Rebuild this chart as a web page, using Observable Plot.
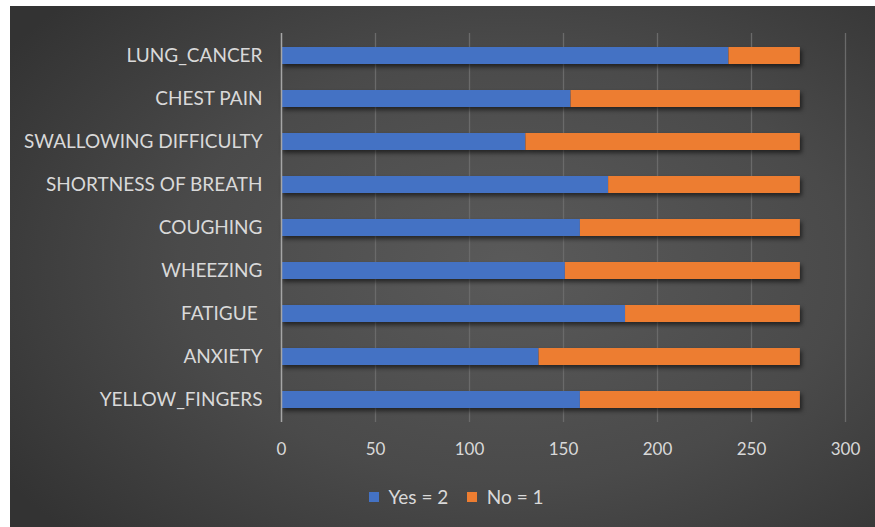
<!DOCTYPE html>
<html>
<head>
<meta charset="utf-8">
<script src="https://cdn.jsdelivr.net/npm/d3@7"></script>
<script src="https://cdn.jsdelivr.net/npm/@observablehq/plot@0.6"></script>
<style>
  html, body { margin: 0; padding: 0; background: #ffffff; }
  #bg {
    position: absolute; left: 10px; top: 6px; width: 865px; height: 521px;
    background: radial-gradient(ellipse 70% 75% at 58% 50%, #5a5a5a 0%, #4a4a4a 55%, #333333 100%);
  }
  #chart { position: absolute; left: 0; top: 0; width: 875px; }
  #legend { position: absolute; left: 0; top: 470px; width: 875px; height: 50px; }
  #chart svg text { fill: #d9d9d9; }
</style>
</head>
<body>
<div id="bg"></div>
<div id="chart"></div>
<div id="legend"></div>
<script>
const categories = ["LUNG_CANCER", "CHEST PAIN", "SWALLOWING DIFFICULTY", "SHORTNESS OF BREATH", "COUGHING", "WHEEZING", "FATIGUE\u00a0", "ANXIETY", "YELLOW_FINGERS"];
const yesValues = [238, 154, 130, 174, 159, 151, 183, 137, 159];
const noValues  = [38, 122, 146, 102, 117, 125, 93, 139, 117];
const seriesNames = ["Yes = 2", "No = 1"];
const seriesColors = ["#4472C4", "#ED7D31"];
const xTicks = [0, 50, 100, 150, 200, 250, 300];

const rows = [];
categories.forEach((c, i) => {
  rows.push({category: c, series: seriesNames[0], value: yesValues[i]});
  rows.push({category: c, series: seriesNames[1], value: noValues[i]});
});

const font = "Lato, 'Open Sans', sans-serif";

const chart = Plot.plot({
  width: 875,
  height: 470,
  marginLeft: 281,
  marginRight: 30,
  marginTop: 33,
  marginBottom: 48,
  style: {background: "transparent", fontFamily: font, fontSize: "17px", color: "#d9d9d9", overflow: "visible"},
  x: {domain: [0, 300], ticks: xTicks, label: null, tickSize: 0, tickPadding: 20, grid: false},
  y: {domain: categories, label: null, tickSize: 0, tickPadding: 19, paddingInner: 0.6, paddingOuter: 0.3},
  color: {domain: seriesNames, range: seriesColors},
  marks: [
    Plot.ruleX(xTicks.filter(d => d > 0), {stroke: "#6a6a6a", strokeWidth: 1.3}),
    Plot.barX(rows, Plot.stackX({y: "category", x: "value", fill: "series", order: seriesNames, inset: 0})),
    Plot.ruleX([0], {stroke: "#a6a6a6", strokeWidth: 1.5})
  ]
});

d3.select(chart).selectAll("g[aria-label='y-axis tick label'] text").style("font-size", "19px");
d3.select(chart).selectAll("g[aria-label='bar']").style("filter", "drop-shadow(2px 3px 2px rgba(0,0,0,0.55))");
document.getElementById("chart").appendChild(chart);

const legend = Plot.legend({
  color: {domain: seriesNames, range: seriesColors},
  legend: "swatches",
  swatchSize: 10,
  style: {fontFamily: font, fontSize: "19px", color: "#d9d9d9", background: "transparent"}
});
const legendBox = document.getElementById("legend");
legendBox.appendChild(legend);
legend.style.position = "absolute";
legend.style.left = "369px";
legend.style.top = "10px";
legend.style.margin = "0";
</script>
</body>
</html>
